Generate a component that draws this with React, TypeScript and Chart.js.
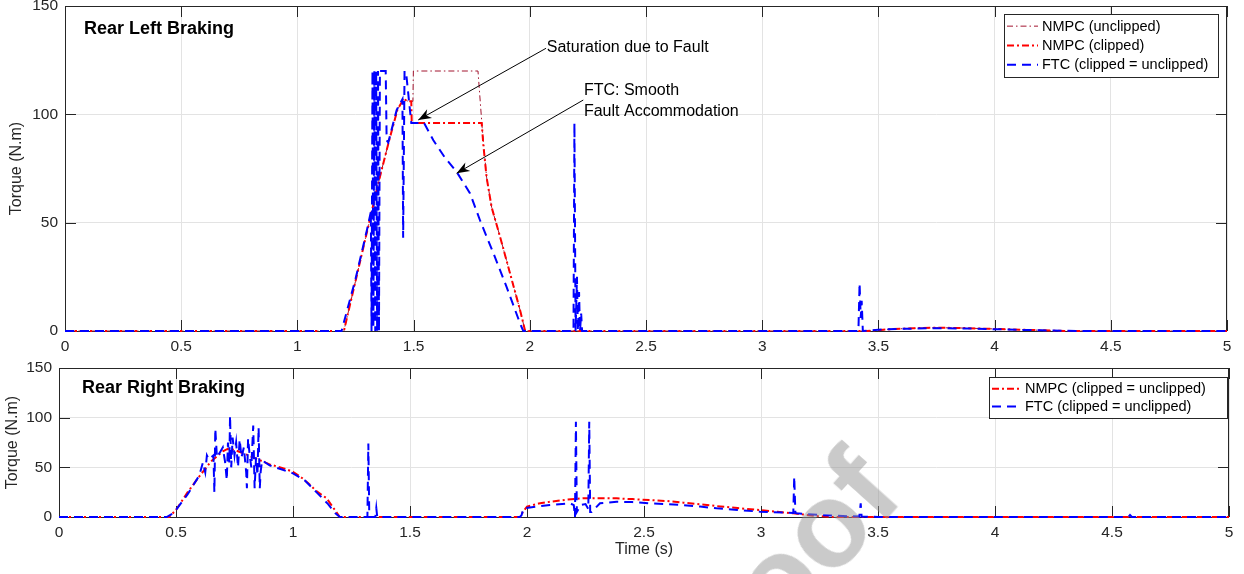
import React, { useEffect, useRef } from "react";
import { Chart, registerables } from "chart.js";

Chart.register(...registerables);

// ---------- ticks ----------
const timeTicks = [0, 0.5, 1, 1.5, 2, 2.5, 3, 3.5, 4, 4.5, 5];
const torqueTicks = [0, 50, 100, 150];

// ---------- Rear Left Braking ----------
const rlNmpcUnclippedT = [0, 1.2, 1.25, 1.3, 1.35, 1.39, 1.43, 1.456, 1.477, 1.497, 1.499, 1.777, 1.795, 1.814, 1.836, 1.872, 1.915, 1.958, 1.98, 3.45, 3.55, 3.65, 3.75, 3.85, 3.95, 4.05, 4.15, 4.3, 5];
const rlNmpcUnclippedY = [0, 0, 23, 46, 69, 86, 102, 107, 106, 106, 120, 120, 94, 71, 57, 43.5, 26.6, 9.7, 0, 0, 0.8, 1.3, 1.5, 1.4, 1.1, 0.8, 0.5, 0, 0];

const rlNmpcClippedT = [0, 1.2, 1.25, 1.3, 1.35, 1.39, 1.43, 1.456, 1.477, 1.49, 1.492, 1.793, 1.8, 1.814, 1.836, 1.872, 1.915, 1.958, 1.98, 3.45, 3.55, 3.65, 3.75, 3.85, 3.95, 4.05, 4.15, 4.3, 5];
const rlNmpcClippedY = [0, 0, 23, 46, 69, 86, 102, 107, 106, 106, 96, 96, 86, 71, 57, 43.5, 26.6, 9.7, 0, 0, 0.8, 1.3, 1.5, 1.4, 1.1, 0.8, 0.5, 0, 0];

const rlFtcT = [0, 1.19, 1.25, 1.3, 1.316, 1.319, 1.323, 1.327, 1.331, 1.335, 1.339, 1.343, 1.347, 1.351, 1.355, 1.38, 1.384, 1.391, 1.427, 1.452, 1.455, 1.461, 1.468, 1.49, 1.545, 1.585, 1.635, 1.685, 1.743, 1.786, 1.843, 1.9, 1.958, 1.972, 2.188, 2.192, 2.197, 2.203, 2.207, 2.212, 2.216, 2.221, 2.225, 3.414, 3.419, 3.424, 3.428, 3.433, 3.5, 3.6, 3.75, 3.9, 4.05, 4.2, 4.35, 4.805, 4.81, 4.815, 5];
const rlFtcY = [0, 0, 24, 47, 55, 0, 120, 2, 120, 0, 120, 0, 120, 0, 120, 120, 88, 87, 102, 107, 43, 120, 119, 96, 96, 88, 80, 73.5, 63.5, 51, 36, 20.4, 3.5, 0, 0, 96, 0, 25, 0, 18, 0, 8, 0, 0, 22, 6, 14, 0, 0.6, 1, 1.3, 1.1, 0.7, 0.3, 0, 0, 0.6, 0, 0];

// ---------- Rear Right Braking ----------
const rrNmpcT = [0, 0.47, 0.5, 0.55, 0.6, 0.65, 0.7, 0.72, 0.75, 0.8, 0.86, 0.9, 0.96, 1.0, 1.04, 1.07, 1.1, 1.144, 1.17, 1.2, 1.97, 1.985, 2.0, 2.05, 2.1, 2.17, 2.24, 2.31, 2.383, 2.45, 2.526, 2.6, 2.668, 2.74, 2.81, 2.9, 2.996, 3.07, 3.138, 3.19, 3.238, 3.3, 5];
const rrNmpcY = [0, 0, 7, 25, 41, 56, 66, 68.5, 67.5, 63, 57, 53, 49, 45.5, 39, 33, 26, 18.8, 10, 0, 0, 6, 10.4, 13.5, 15.4, 17.5, 18.8, 19, 18.8, 18, 17.1, 16, 14.4, 12.8, 11, 9, 7, 5.2, 3.7, 2.2, 1, 0, 0];

const rrFtcT = [0, 0.46, 0.49, 0.55, 0.6, 0.615, 0.625, 0.632, 0.64, 0.66, 0.664, 0.668, 0.675, 0.69, 0.7, 0.71, 0.717, 0.722, 0.728, 0.731, 0.736, 0.742, 0.75, 0.757, 0.765, 0.772, 0.78, 0.79, 0.8, 0.803, 0.808, 0.815, 0.822, 0.83, 0.836, 0.842, 0.848, 0.853, 0.858, 0.862, 0.868, 0.9, 0.95, 1.0, 1.05, 1.1, 1.15, 1.18, 1.2, 1.318, 1.322, 1.326, 1.352, 1.356, 1.36, 1.97, 1.977, 1.985, 2.04, 2.098, 2.15, 2.184, 2.2, 2.205, 2.209, 2.213, 2.23, 2.25, 2.262, 2.266, 2.27, 2.276, 2.312, 2.383, 2.45, 2.526, 2.6, 2.668, 2.74, 2.81, 2.9, 2.996, 3.095, 3.138, 3.142, 3.147, 3.152, 3.25, 3.35, 3.42, 3.426, 3.43, 3.5, 4.57, 4.577, 4.585, 5];
const rrFtcY = [0, 0, 4, 23, 42, 55, 45, 62, 58, 62, 25, 89, 60, 66, 70, 55, 37, 75, 55, 102, 50, 80, 62, 75, 50, 78, 60, 70, 45, 29, 79, 62, 50, 92, 29, 60, 42, 90, 29, 46, 57, 52, 48, 44, 37, 25, 13, 4, 0, 0, 74, 0, 0, 9, 0, 0, 2, 8.7, 10.5, 12, 13.2, 13.8, 12, 0, 96, 5, 12, 13, 8, 96, 5, 5, 13.8, 15.4, 15, 13.8, 13, 12, 10.5, 8.7, 7, 5.4, 4.4, 4, 40.6, 4, 3.7, 2, 1, 0.5, 13.8, 0.5, 0, 0, 2, 0, 0];

// ---------- labels ----------
const rlTitle = "Rear Left Braking";
const rrTitle = "Rear Right Braking";
const yTitle = "Torque (N.m)";
const xTitle = "Time (s)";
const rlLabels = ["NMPC (unclipped)", "NMPC (clipped)", "FTC (clipped = unclipped)"];
const rrLabels = ["NMPC (clipped = unclipped)", "FTC (clipped = unclipped)"];

// annotations (data coordinates): text anchor, arrow tail, arrow head
const satText = ["Saturation due to Fault"];
const satTextPos = [2.073, 131];
const satArrow = [2.07, 130.5, 1.52, 97.4];
const ftcText = ["FTC: Smooth", "Fault Accommodation"];
const ftcTextPos = [2.233, 110.9, 101.2];
const ftcArrow = [2.23, 106.6, 1.685, 72.8];

const watermarkText = "Journal Pre-proof";

const FONT = '"Liberation Sans", Arial, Helvetica, sans-serif';
const AX = "#262626";

const pts = (t: number[], y: number[]) => t.map((v, i) => ({ x: v, y: y[i] }));

const STYLE_UNCLIPPED = { borderColor: "#A2142F", borderWidth: 1, borderDash: [6, 3, 1.5, 3] };
const STYLE_CLIPPED = { borderColor: "#ff0000", borderWidth: 2, borderDash: [7, 3, 2, 3] };
const STYLE_FTC = { borderColor: "#0000ff", borderWidth: 2, borderDash: [9, 6] };

function drawArrow(ctx: CanvasRenderingContext2D, x1: number, y1: number, x2: number, y2: number) {
  ctx.save();
  ctx.strokeStyle = "#000";
  ctx.fillStyle = "#000";
  ctx.lineWidth = 1;
  ctx.setLineDash([]);
  ctx.beginPath();
  ctx.moveTo(x1, y1);
  ctx.lineTo(x2, y2);
  ctx.stroke();
  const ang = Math.atan2(y2 - y1, x2 - x1);
  const L = 13, W = 5;
  const bx = x2 - L * Math.cos(ang), by = y2 - L * Math.sin(ang);
  const nx = -Math.sin(ang), ny = Math.cos(ang);
  const mx = x2 - L * 0.7 * Math.cos(ang), my = y2 - L * 0.7 * Math.sin(ang);
  ctx.beginPath();
  ctx.moveTo(x2, y2);
  ctx.lineTo(bx + nx * W, by + ny * W);
  ctx.lineTo(mx, my);
  ctx.lineTo(bx - nx * W, by - ny * W);
  ctx.closePath();
  ctx.fill();
  ctx.restore();
}

type Cfg = {
  title: string;
  titleDx: number;
  titleDy: number;
  yTitleDx: number;
  xTitle?: string;
  xTitleY?: number;
  legend: { label: string; style: any }[];
  legendBox: { right: number; top: number; width: number; row: number; pad: number; sample: number };
  annotate?: boolean;
};

function makePlugin(cfg: Cfg) {
  return {
    id: "matlabDecor",
    beforeDatasetsDraw(chart: any) {
      const { ctx, chartArea: a, scales } = chart;
      ctx.save();
      ctx.strokeStyle = AX;
      ctx.lineWidth = 1;
      ctx.setLineDash([]);
      ctx.strokeRect(Math.round(a.left) + 0.5, Math.round(a.top) + 0.5, Math.round(a.right - a.left) - 1, Math.round(a.bottom - a.top));
      const tl = 11;
      ctx.beginPath();
      scales.x.ticks.forEach((t: any) => {
        const px = Math.round(scales.x.getPixelForValue(t.value)) + 0.5;
        ctx.moveTo(px, a.bottom);
        ctx.lineTo(px, a.bottom - tl);
        ctx.moveTo(px, a.top);
        ctx.lineTo(px, a.top + tl);
      });
      scales.y.ticks.forEach((t: any) => {
        const py = Math.round(scales.y.getPixelForValue(t.value)) + 0.5;
        ctx.moveTo(a.left, py);
        ctx.lineTo(a.left + tl, py);
        ctx.moveTo(a.right, py);
        ctx.lineTo(a.right - tl, py);
      });
      ctx.stroke();
      ctx.restore();
    },
    afterDatasetsDraw(chart: any) {
      const { ctx, chartArea: a, scales } = chart;
      ctx.save();
      // panel title
      ctx.fillStyle = "#000";
      ctx.font = `bold 18px ${FONT}`;
      ctx.textBaseline = "middle";
      ctx.textAlign = "left";
      ctx.fillText(cfg.title, a.left + cfg.titleDx, a.top + cfg.titleDy);
      // y title
      ctx.save();
      ctx.fillStyle = AX;
      ctx.font = `16px ${FONT}`;
      ctx.translate(a.left + cfg.yTitleDx, (a.top + a.bottom) / 2);
      ctx.rotate(-Math.PI / 2);
      ctx.textAlign = "center";
      ctx.textBaseline = "middle";
      ctx.fillText(yTitle, 0, 0);
      ctx.restore();
      // x title
      if (cfg.xTitle) {
        ctx.fillStyle = AX;
        ctx.font = `16px ${FONT}`;
        ctx.textAlign = "center";
        ctx.textBaseline = "middle";
        ctx.fillText(cfg.xTitle, (a.left + a.right) / 2, cfg.xTitleY);
      }
      // legend
      const lb = cfg.legendBox;
      const h = lb.pad * 2 + lb.row * cfg.legend.length;
      const x0 = a.right - lb.right - lb.width;
      const y0 = a.top + lb.top;
      ctx.fillStyle = "#fff";
      ctx.fillRect(x0, y0, lb.width, h);
      ctx.strokeStyle = AX;
      ctx.lineWidth = 1;
      ctx.setLineDash([]);
      ctx.strokeRect(Math.round(x0) + 0.5, Math.round(y0) + 0.5, Math.round(lb.width), Math.round(h));
      cfg.legend.forEach((it, i) => {
        const cy = y0 + lb.pad + lb.row * (i + 0.5);
        ctx.save();
        ctx.strokeStyle = it.style.borderColor;
        ctx.lineWidth = it.style.borderWidth;
        ctx.setLineDash(it.style.borderDash);
        ctx.beginPath();
        ctx.moveTo(x0 + 3, cy);
        ctx.lineTo(x0 + 3 + lb.sample, cy);
        ctx.stroke();
        ctx.restore();
        ctx.fillStyle = "#000";
        ctx.font = `14.5px ${FONT}`;
        ctx.textAlign = "left";
        ctx.textBaseline = "middle";
        ctx.fillText(it.label, x0 + 3 + lb.sample + 4, cy + 0.5);
      });
      // annotations
      if (cfg.annotate) {
        const X = (v: number) => scales.x.getPixelForValue(v);
        const Y = (v: number) => scales.y.getPixelForValue(v);
        ctx.fillStyle = "#000";
        ctx.font = `16px ${FONT}`;
        ctx.textAlign = "left";
        ctx.textBaseline = "middle";
        ctx.fillText(satText[0], X(satTextPos[0]), Y(satTextPos[1]));
        ctx.fillText(ftcText[0], X(ftcTextPos[0]), Y(ftcTextPos[1]));
        ctx.fillText(ftcText[1], X(ftcTextPos[0]), Y(ftcTextPos[2]));
        drawArrow(ctx, X(satArrow[0]), Y(satArrow[1]), X(satArrow[2]), Y(satArrow[3]));
        drawArrow(ctx, X(ftcArrow[0]), Y(ftcArrow[1]), X(ftcArrow[2]), Y(ftcArrow[3]));
      }
      ctx.restore();
    },
  };
}

function makeChart(canvas: HTMLCanvasElement, datasets: any[], cfg: Cfg, layout: any) {
  return new Chart(canvas, {
    type: "line",
    data: { datasets },
    options: {
      responsive: false,
      animation: false,
      events: [],
      layout: { padding: layout.padding },
      elements: { point: { radius: 0 }, line: { tension: 0, borderCapStyle: "butt", borderJoinStyle: "miter" } },
      plugins: { legend: { display: false }, tooltip: { enabled: false } },
      scales: {
        x: {
          type: "linear",
          min: 0,
          max: 5,
          afterBuildTicks: (s: any) => { s.ticks = timeTicks.map((v) => ({ value: v })); },
          afterFit: (s: any) => { s.height = layout.xHeight; s.paddingLeft = 0; s.paddingRight = 0; },
          grid: { color: "#e3e3e3", drawTicks: false },
          border: { display: false },
          ticks: { color: AX, font: { family: FONT, size: 15.5 }, padding: 6, maxRotation: 0, autoSkip: false, callback: (v: any) => String(v) },
        },
        y: {
          type: "linear",
          min: 0,
          max: 150,
          afterBuildTicks: (s: any) => { s.ticks = torqueTicks.map((v) => ({ value: v })); },
          afterFit: (s: any) => { s.width = layout.yWidth; s.paddingTop = 0; s.paddingBottom = 0; },
          grid: { color: "#e3e3e3", drawTicks: false },
          border: { display: false },
          ticks: { color: AX, font: { family: FONT, size: 15.5 }, padding: 7, callback: (v: any) => String(v) },
        },
      },
    },
    plugins: [makePlugin(cfg)],
  } as any);
}

export default function App() {
  const topRef = useRef<HTMLCanvasElement>(null);
  const botRef = useRef<HTMLCanvasElement>(null);

  useEffect(() => {
    const top = makeChart(
      topRef.current!,
      [
        { label: rlLabels[0], data: pts(rlNmpcUnclippedT, rlNmpcUnclippedY), ...STYLE_UNCLIPPED, order: 3, clip: 6 },
        { label: rlLabels[1], data: pts(rlNmpcClippedT, rlNmpcClippedY), ...STYLE_CLIPPED, order: 2, clip: 6 },
        { label: rlLabels[2], data: pts(rlFtcT, rlFtcY), ...STYLE_FTC, order: 1, clip: 6 },
      ],
      {
        title: rlTitle,
        titleDx: 19,
        titleDy: 23,
        yTitleDx: -48,
        legend: [
          { label: rlLabels[0], style: STYLE_UNCLIPPED },
          { label: rlLabels[1], style: STYLE_CLIPPED },
          { label: rlLabels[2], style: STYLE_FTC },
        ],
        legendBox: { right: 9, top: 8, width: 214, row: 19.3, pad: 2.5, sample: 31 },
        annotate: true,
      },
      { padding: { left: 0, right: 17, top: 6, bottom: 0 }, xHeight: 29, yWidth: 65 }
    );
    const bot = makeChart(
      botRef.current!,
      [
        { label: rrLabels[0], data: pts(rrNmpcT, rrNmpcY), ...STYLE_CLIPPED, order: 2, clip: 6 },
        { label: rrLabels[1], data: pts(rrFtcT, rrFtcY), ...STYLE_FTC, order: 1, clip: 6 },
      ],
      {
        title: rrTitle,
        titleDx: 23,
        titleDy: 20,
        yTitleDx: -46,
        xTitle: xTitle,
        xTitleY: 200,
        legend: [
          { label: rrLabels[0], style: STYLE_CLIPPED },
          { label: rrLabels[1], style: STYLE_FTC },
        ],
        legendBox: { right: 2, top: 9, width: 238, row: 17.6, pad: 3, sample: 29 },
      },
      { padding: { left: 0, right: 15, top: 18, bottom: 0 }, xHeight: 57, yWidth: 59 }
    );
    return () => {
      top.destroy();
      bot.destroy();
    };
  }, []);

  return (
    <div style={{ position: "absolute", left: 0, top: 0, width: 1244, height: 574, overflow: "hidden", background: "#fff" }}>
      <canvas ref={topRef} width={1244} height={360} style={{ position: "absolute", left: 0, top: 0 }} />
      <canvas ref={botRef} width={1244} height={224} style={{ position: "absolute", left: 0, top: 350 }} />
      <div style={{ position: "absolute", left: 920, top: 510, width: 0, height: 0 }}>
        <span
          style={{
            position: "absolute",
            right: 0,
            bottom: 0,
            whiteSpace: "nowrap",
            fontFamily: FONT,
            fontWeight: "bold",
            fontSize: 120,
            lineHeight: 1,
            color: "rgba(150,150,150,0.5)",
            transformOrigin: "100% 100%",
            transform: "rotate(-48deg)",
            pointerEvents: "none",
          }}
        >
          {watermarkText}
        </span>
      </div>
    </div>
  );
}
